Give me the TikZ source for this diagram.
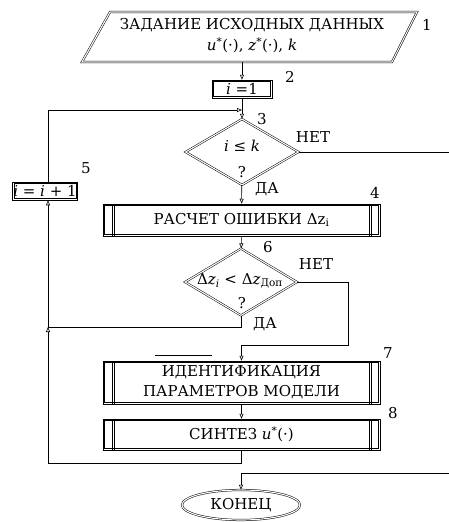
\documentclass[tikz,border=0pt]{standalone}
\usepackage{amsmath}
\usepackage{fontspec}
\setmainfont{DejaVu Serif}
\usetikzlibrary{arrows.meta, positioning, shapes.geometric, calc}

\begin{document}
\begin{tikzpicture}[x=1pt, y=-1pt,
  txt/.style={font=\fontsize{15}{20}\selectfont},
  num/.style={font=\fontsize{15}{16}\selectfont},
  dbl/.style={draw, double, double distance=1.1pt, line width=0.5pt},
  frame/.style={draw, line width=0.5pt,
    path picture={
      \draw[line width=0.5pt] ([shift={(1.6pt,-1.6pt)}]path picture bounding box.north west)
        rectangle ([shift={(-1.6pt,1.6pt)}]path picture bounding box.south east);
    }},
  box/.style={frame, minimum height=18pt, inner sep=1pt, txt},
  proc/.style={draw, line width=0.5pt, minimum width=277pt, align=center, txt,
    path picture={
      \draw[line width=0.5pt] ([shift={(1.6pt,-1.6pt)}]path picture bounding box.north west)
        rectangle ([shift={(-1.6pt,1.6pt)}]path picture bounding box.south east);
      \foreach \d in {9,11} {
        \draw[line width=0.5pt] ([xshift=\d pt]path picture bounding box.north west)
          -- ([xshift=\d pt]path picture bounding box.south west);
        \draw[line width=0.5pt] ([xshift=-\d pt]path picture bounding box.north east)
          -- ([xshift=-\d pt]path picture bounding box.south east);
      }
    }},
  decide/.style={dbl, diamond, minimum width=113pt, minimum height=66pt, inner sep=0pt},
  term/.style={dbl, ellipse, minimum width=118pt, minimum height=30pt, inner sep=0pt, txt},
  wire/.style={line width=0.6pt},
  flow/.style={wire, -{Triangle[open, length=5pt, width=4pt]}},
]
\clip (0,0) rectangle (449,522);

% input block
\draw[dbl] (110,12) -- (417,12) -- (392,62) -- (82,62) -- cycle;
\node[txt, align=center] (data) at (252,36) {ЗАДАНИЕ ИСХОДНЫХ ДАННЫХ\\[1pt]
  \textit{u}\textsuperscript{*}(·), \textit{z}\textsuperscript{*}(·), \textit{k}};
\coordinate (dataout) at (242,62);
\node[num] (n1) at (427,25) {1};

% blocks
\node[box, minimum width=60pt] (init) at (242,89) {\textit{i} =1};
\node[num] (n2) at (290,77) {2};
\node[decide] (test) at (242,152) {};
\node[txt] (testa) at (242,146) {\textit{i} ≤ \textit{k}};
\node[txt] (testq) at (242,172) {?};
\node[num] (n3) at (262,119) {3};
\node[txt] (no1) at (313,137) {НЕТ};
\node[txt] (yes1) at (267,189) {ДА};
\node[proc, minimum height=32pt] (calc) at (241.5,220) {РАСЧЕТ ОШИБКИ Δz\textsubscript{i}};
\node[num] (n4) at (375,193) {4};
\node[box, minimum width=64pt] (step) at (45,191) {\textit{i} = \textit{i} + 1};
\node[num] (n5) at (86,168) {5};
\node[decide, minimum width=112pt, minimum height=67pt] (check) at (241,282) {};
\node[txt] (checka) at (240,281) {Δ\textit{z}\textsubscript{\textit{i}} < Δ\textit{z}\textsubscript{Доп}};
\node[txt] (checkq) at (242,303) {?};
\node[num] (n6) at (268,247) {6};
\node[txt] (no2) at (316,264) {НЕТ};
\node[txt] (yes2) at (265,324) {ДА};
\node[proc, minimum height=43pt] (ident) at (241.5,382.5) {ИДЕНТИФИКАЦИЯ\\ПАРАМЕТРОВ МОДЕЛИ};
\node[num] (n7) at (388,353) {7};
\node[proc, minimum height=31pt] (synth) at (241.5,434.5) {СИНТЕЗ \textit{u}\textsuperscript{*}(·)};
\node[num] (n8) at (393,413) {8};
\node[term] (fin) at (241,505) {КОНЕЦ};

% turning points
\coordinate (join) at (242,110);
\coordinate (merge) at (48,327);
\coordinate (turn) at (348,345);
\coordinate (exit) at (460,473);

% connectors
\draw[flow] (dataout) -- (init);
\draw[flow] (init) -- (test);
\draw[flow] (step.north -| merge) |- (join);
\draw[flow] (test) -- (calc);
\draw[flow] (calc) -- (check);
\draw[wire] (check.south) |- (merge);
\draw[flow] (synth.south) -- ++(0,13) -| (merge);
\draw[flow] (merge) -- (step.south -| merge);
\draw[flow] (check.east) -| (turn) -| (ident.north);
\draw[flow] (ident) -- (synth);
\draw[flow] (test.east) -| (exit) -| (fin.north);
\draw[line width=0.6pt] (155,355) -- (212,355);
\end{tikzpicture}
\end{document}
